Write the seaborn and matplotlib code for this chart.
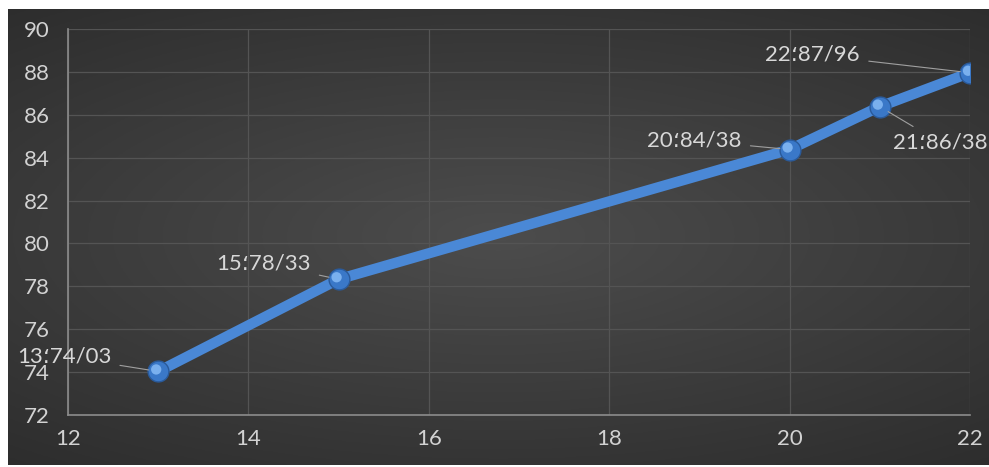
import numpy as np
import pandas as pd
import matplotlib
matplotlib.use("Agg")
import matplotlib.pyplot as plt
import matplotlib.transforms as mtransforms
import seaborn as sns

# ---- data ----
x_vals = [13, 15, 20, 21, 22]
y_vals = [74.03, 78.33, 84.38, 86.38, 87.96]
point_labels = ["13؛74/03", "15؛78/33", "20؛84/38", "21؛86/38", "22؛87/96"]
x_ticks = [12, 14, 16, 18, 20, 22]
y_ticks = [72, 74, 76, 78, 80, 82, 84, 86, 88, 90]

df = pd.DataFrame({"x": x_vals, "y": y_vals})

sns.set_style("dark")
plt.rcParams["font.family"] = ["Lato", "DejaVu Sans"]

W, H = 989, 467
fig = plt.figure(figsize=(W / 100, H / 100), dpi=100, facecolor="white")

# background with radial gradient
bg = fig.add_axes([8 / W, 2 / H, 981 / W, 456 / H])
gx, gy = np.meshgrid(np.linspace(-1, 1, 400), np.linspace(-1, 1, 200))
r = np.sqrt((gx * 0.9) ** 2 + (gy * 1.1) ** 2)
val = 0.30 - 0.12 * np.clip(r, 0, 1.4) / 1.4
bg.imshow(np.dstack([val, val, val]), aspect="auto", extent=[0, 1, 0, 1])
bg.set_axis_off()

ax = fig.add_axes([68 / W, (H - 415) / H, (970 - 68) / W, (415 - 29) / H])
ax.set_facecolor("none")

sns.lineplot(data=df, x="x", y="y", ax=ax, color="#4a88d6", linewidth=7.5,
             marker="o", markersize=15, markerfacecolor="#3a78c8",
             markeredgecolor="#2a5a9a", markeredgewidth=1, zorder=3)
# sphere highlight
hl = mtransforms.offset_copy(ax.transData, fig=fig, x=-2, y=2, units="dots")
ax.scatter(x_vals, y_vals, s=55, color="#7ab0ee", edgecolors="none",
           transform=hl, zorder=4)

ax.set_xlim(12, 22)
ax.set_ylim(72, 90)
ax.set_xticks(x_ticks)
ax.set_yticks(y_ticks)
ax.set_xlabel("")
ax.set_ylabel("")
ax.grid(True, color="#545454", linewidth=0.9)
ax.tick_params(colors="#d2d2d2", labelsize=16, length=0)
ax.tick_params(axis="x", pad=10)
ax.tick_params(axis="y", pad=13)
for side in ["top", "right"]:
    ax.spines[side].set_visible(False)
for side in ["left", "bottom"]:
    ax.spines[side].set_visible(True)
    ax.spines[side].set_color("#8c8c8c")
    ax.spines[side].set_linewidth(1.2)

# annotations (offsets in pixels -> points)
offsets = [(-47, 15, "right"), (-28, 16, "right"), (-48, 9, "right"),
           (13, -36, "left"), (-110, 18, "right")]
for xv, yv, lab, (dx, dy, ha) in zip(x_vals, y_vals, point_labels, offsets):
    ax.annotate(lab, xy=(xv, yv), xytext=(dx * 0.72, dy * 0.72),
                textcoords="offset points", ha=ha, va="center",
                color="#d8d8d8", fontsize=16,
                arrowprops=dict(arrowstyle="-", color="#a0a0a0", lw=0.8,
                                shrinkA=4, shrinkB=7),
                annotation_clip=False, zorder=5)

fig.savefig("out.png", dpi=100, facecolor="white")
